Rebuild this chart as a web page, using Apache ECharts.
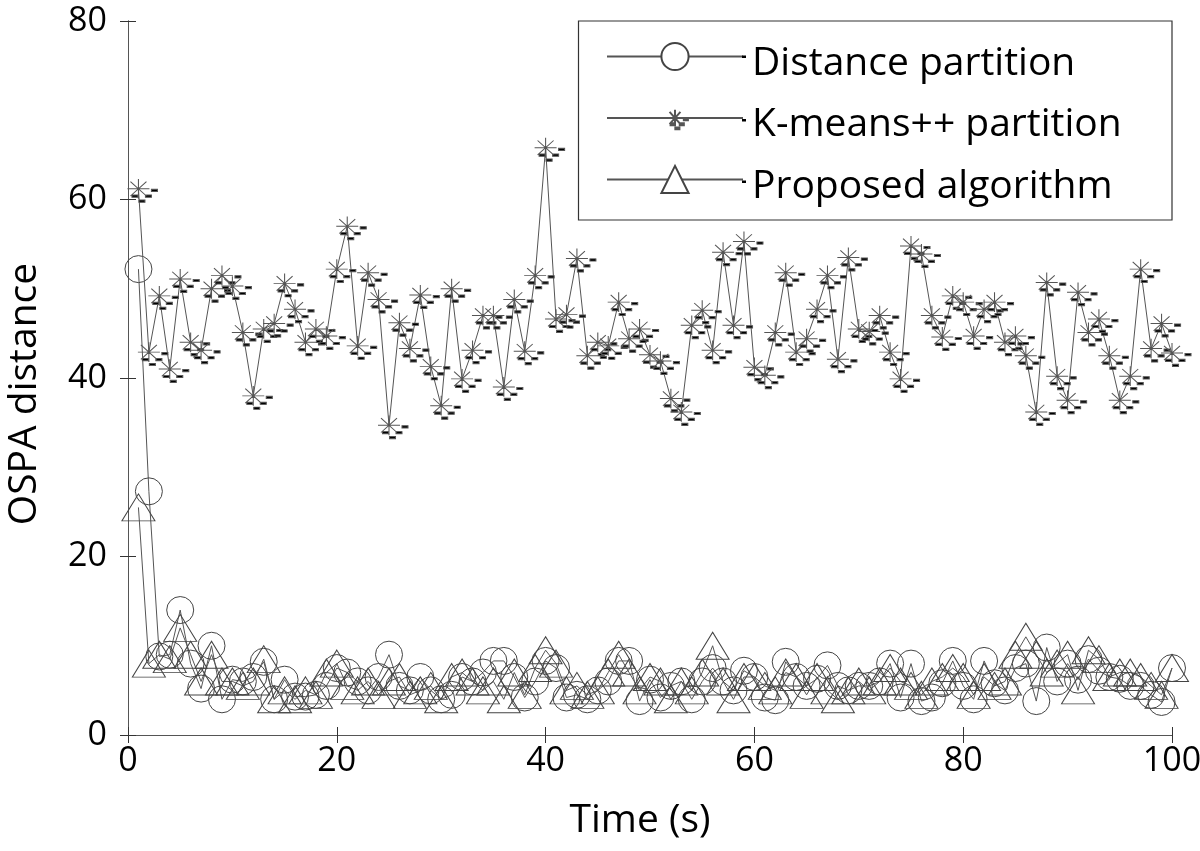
<!DOCTYPE html>
<html>
<head>
<meta charset="utf-8">
<script src="https://cdn.jsdelivr.net/npm/echarts@6/dist/echarts.min.js"></script>
<style>
html,body{margin:0;padding:0;background:#fff;}
#chart{width:1200px;height:851px;}
</style>
</head>
<body>
<div id="chart"></div>
<script>
// ---- data ----
const seriesNames = ['Distance partition', 'K-means++ partition', 'Proposed algorithm'];
const xTicks = [0, 20, 40, 60, 80, 100];
const yTicks = [0, 20, 40, 60, 80];
const time = Array.from({length: 100}, (_, i) => i + 1);

const distancePartition = [
  52.2, 27.3, 8.8, 9.0, 14.0, 8.0, 5.2, 10.0, 4.0, 6.2,
  6.0, 6.5, 8.2, 4.0, 6.2, 4.3, 4.3, 4.5, 5.5, 7.5,
  7.0, 6.0, 5.0, 6.5, 9.0, 5.5, 5.0, 6.5, 5.0, 4.0,
  4.5, 6.5, 6.0, 7.0, 8.3, 8.3, 6.5, 4.2, 6.0, 8.3,
  7.5, 4.2, 4.5, 4.0, 5.0, 6.0, 8.3, 8.3, 3.8, 6.2,
  4.2, 5.5, 6.0, 4.0, 6.0, 7.5, 6.0, 5.0, 7.2, 6.5,
  4.2, 3.9, 8.2, 6.5, 5.5, 6.3, 7.8, 5.5, 5.0, 5.5,
  5.5, 6.0, 8.0, 4.2, 8.0, 3.8, 4.2, 5.8, 8.3, 5.5,
  4.0, 8.3, 5.8, 5.0, 7.5, 8.0, 3.8, 9.8, 6.0, 8.0,
  6.2, 8.5, 7.2, 6.5, 6.3, 5.5, 5.5, 4.5, 3.7, 7.5
];

const kmeansPartition = [
  61.2, 42.9, 49.2, 41.0, 51.1, 44.0, 43.1, 50.0, 51.5, 50.3,
  45.1, 38.0, 45.5, 46.1, 50.6, 47.7, 44.0, 45.5, 44.7, 52.2,
  57.0, 43.6, 51.8, 48.8, 34.7, 46.2, 43.3, 49.3, 41.3, 36.9,
  50.0, 39.9, 43.1, 47.0, 47.0, 39.0, 48.8, 43.0, 51.5, 65.8,
  46.6, 47.1, 53.4, 42.5, 44.0, 43.6, 48.5, 44.4, 45.5, 42.6,
  41.9, 37.7, 36.2, 45.9, 47.6, 43.1, 54.1, 45.9, 55.3, 41.2,
  40.3, 45.1, 51.8, 42.9, 44.4, 47.7, 51.5, 42.1, 53.5, 45.5,
  45.2, 47.0, 42.9, 39.9, 54.8, 53.9, 47.0, 44.6, 49.2, 48.5,
  44.7, 47.7, 48.5, 44.0, 44.7, 42.5, 36.2, 50.7, 40.2, 37.5,
  49.6, 45.1, 46.6, 42.5, 37.5, 40.2, 52.2, 43.3, 46.1, 42.8
];

const proposedAlgorithm = [
  25.5, 8.0, 9.0, 8.5, 12.0, 9.0, 6.0, 9.0, 6.0, 6.0,
  5.5, 6.0, 8.5, 4.0, 5.0, 4.0, 5.0, 4.5, 7.0, 8.0,
  5.5, 5.0, 6.0, 4.5, 6.0, 6.5, 4.5, 5.0, 5.5, 4.0,
  6.5, 7.0, 6.0, 5.0, 6.0, 4.0, 7.0, 4.5, 7.5, 9.5,
  8.0, 5.0, 5.5, 4.5, 5.0, 7.0, 9.0, 7.0, 5.0, 6.5,
  6.0, 4.0, 6.0, 5.0, 7.0, 10.0, 6.0, 4.0, 6.5, 6.5,
  5.5, 5.0, 7.0, 6.5, 4.5, 6.5, 5.0, 4.0, 5.0, 6.0,
  5.0, 6.0, 7.5, 6.0, 5.5, 4.5, 6.0, 6.5, 7.5, 6.5,
  4.5, 6.5, 5.5, 6.0, 9.0, 11.0, 9.0, 7.0, 8.0, 9.0,
  5.0, 9.5, 8.5, 6.5, 7.0, 7.0, 6.5, 5.5, 4.5, 7.5
];

// ---- chart ----
const FONT = 'Open Sans';
const LINE = '#555';
// asterisk marker with the small black dash artefacts of the original export
const starPath = 'path://M-20,-18 M20,18 M-11,0L11,0 M0,-11L0,11 M-8,-8L8,8 M-8,8L8,-8 ' +
  'M13,0.5h6v2.5h-6Z M-6.5,7h6v2.5h-6Z M7,7h6v2.5h-6Z M0.5,12.5h6v2.5h-6Z';

const pairs = arr => time.map((t, i) => [t, arr[i]]);

const xMin = xTicks[0], xMax = xTicks[xTicks.length - 1];
const yMin = yTicks[0], yMax = yTicks[yTicks.length - 1];
const xInt = xTicks[1] - xTicks[0], yInt = yTicks[1] - yTicks[0];

const axisCommon = {
  type: 'value',
  axisLine: {show: true, lineStyle: {color: '#555', width: 1}},
  axisTick: {show: true, inside: true, length: 8, lineStyle: {color: '#333', width: 1}},
  splitLine: {show: false},
  minorTick: {show: false}
};

const chart = echarts.init(document.getElementById('chart'), null, {renderer: 'canvas'});
chart.setOption({
  animation: false,
  backgroundColor: '#fff',
  grid: {left: 128, right: 28, top: 21, bottom: 116, containLabel: false, outerBoundsMode: 'none'},
  xAxis: [
    Object.assign({}, axisCommon, {
      min: xMin, max: xMax, interval: xInt, position: 'bottom',
      axisLabel: {color: '#000', fontFamily: FONT, fontSize: 34, margin: 9},
      name: 'Time (s)', nameLocation: 'middle', nameGap: 66,
      nameTextStyle: {color: '#000', fontFamily: FONT, fontSize: 39, padding: [0, 20, 0, 0]}
    }),
    Object.assign({}, axisCommon, {
      min: xMin, max: xMax, interval: xInt, position: 'top',
      axisLabel: {show: false}
    })
  ],
  yAxis: [
    Object.assign({}, axisCommon, {
      min: yMin, max: yMax, interval: yInt, position: 'left',
      axisLabel: {color: '#000', fontFamily: FONT, fontSize: 34, margin: 21},
      name: 'OSPA distance', nameLocation: 'middle', nameGap: 84, nameRotate: 90,
      nameTextStyle: {color: '#000', fontFamily: FONT, fontSize: 39, padding: [0, 32, 0, 0]}
    }),
    Object.assign({}, axisCommon, {
      min: yMin, max: yMax, interval: yInt, position: 'right',
      axisLabel: {show: false}
    })
  ],
  legend: {
    orient: 'vertical',
    left: 606, top: 30,
    padding: 0,
    itemWidth: 136, itemHeight: 34, itemGap: 8.5,
    formatter: name => '{t|' + name + '}',
    textStyle: {
      color: '#000', fontFamily: FONT, fontSize: 39,
      rich: {t: {color: '#000', fontFamily: FONT, fontSize: 39, lineHeight: 40, padding: [14, 0, 0, 4]}}
    },
    data: [
      {name: seriesNames[0], itemStyle: {color: '#fff'}},
      {name: seriesNames[1]},
      {name: seriesNames[2], itemStyle: {color: '#fff'}}
    ],
    z: 6
  },
  graphic: [
    {type: 'rect', z: 5, shape: {x: 578.5, y: 21, width: 593.5, height: 199},
     style: {fill: '#fff', stroke: '#333', lineWidth: 1.2}},
    {type: 'rect', z: 7, shape: {x: 742, y: 55.5, width: 4, height: 2.5}, style: {fill: '#000'}},
    {type: 'rect', z: 7, shape: {x: 742, y: 119, width: 4, height: 2.5}, style: {fill: '#000'}},
    {type: 'rect', z: 7, shape: {x: 742, y: 180.5, width: 4, height: 2.5}, style: {fill: '#000'}}
  ],
  series: [
    {
      name: seriesNames[0], type: 'line', data: pairs(distancePartition),
      symbol: 'circle', symbolSize: 27, showAllSymbol: true,
      lineStyle: {color: LINE, width: 1},
      itemStyle: {color: 'rgba(0,0,0,0)', borderColor: '#444', borderWidth: 1},
      emphasis: {disabled: true}, z: 2
    },
    {
      name: seriesNames[1], type: 'line', data: pairs(kmeansPartition),
      symbol: starPath, symbolSize: [40, 36], symbolKeepAspect: true, showAllSymbol: true,
      lineStyle: {color: LINE, width: 1},
      itemStyle: {color: '#000', borderColor: '#555', borderWidth: 1},
      emphasis: {disabled: true}, z: 3
    },
    {
      name: seriesNames[2], type: 'line', data: pairs(proposedAlgorithm),
      symbol: 'triangle', symbolSize: [33, 27], showAllSymbol: true,
      lineStyle: {color: LINE, width: 1},
      itemStyle: {color: 'rgba(0,0,0,0)', borderColor: '#444', borderWidth: 1},
      emphasis: {disabled: true}, z: 2
    }
  ]
});
</script>
</body>
</html>
